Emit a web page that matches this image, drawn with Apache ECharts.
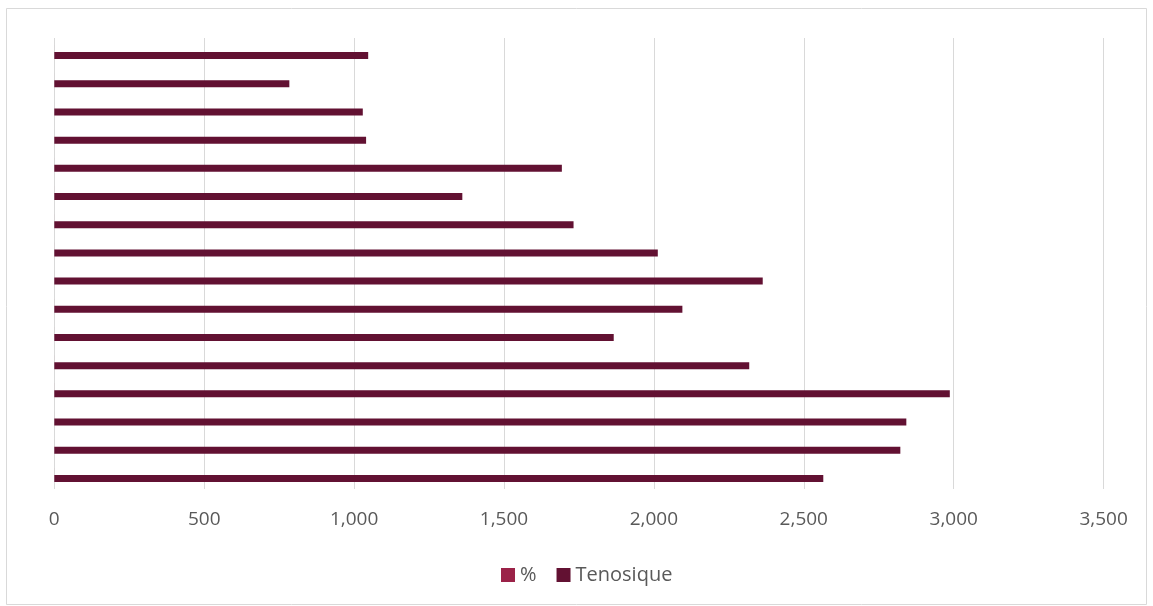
<!DOCTYPE html>
<html>
<head>
<meta charset="utf-8">
<script src="https://cdn.jsdelivr.net/npm/echarts@6/dist/echarts.min.js"></script>
<style>
html,body{margin:0;padding:0;background:#fff;}
#chart{width:1153px;height:606px;}
</style>
</head>
<body>
<div id="chart"></div>
<script>
// Categories (top to bottom); their labels are not shown in the reference
const categories = ['1','2','3','4','5','6','7','8','9','10','11','12','13','14','15','16'];
// Tenosique values (top to bottom)
const tenosique = [1047, 784, 1029, 1040, 1693, 1361, 1732, 2013, 2363, 2095, 1866, 2318, 2987, 2842, 2822, 2565];
// "%" series: values are too small to be visible at this scale
const percent = [0.04, 0.03, 0.04, 0.04, 0.06, 0.05, 0.06, 0.07, 0.08, 0.07, 0.06, 0.08, 0.1, 0.09, 0.09, 0.08];
const xTicks = { min: 0, max: 3500, interval: 500 };

const chart = echarts.init(document.getElementById('chart'), null, { renderer: 'canvas' });
const fontFamily = '"Open Sans", "Liberation Sans", sans-serif';
chart.setOption({
  animation: false,
  backgroundColor: '#ffffff',
  graphic: [{
    type: 'rect',
    shape: { x: 6.5, y: 8.5, width: 1140, height: 596 },
    style: { fill: 'none', stroke: '#d9d9d9', lineWidth: 1 },
    silent: true
  }],
  grid: { left: 54.3, right: 49.4, top: 38, bottom: 117, containLabel: false },
  legend: {
    data: ['%', 'Tenosique'],
    top: 560,
    left: 496,
    itemWidth: 14,
    itemHeight: 14,
    itemGap: 20,
    icon: 'rect',
    textStyle: { color: '#595959', fontSize: 20, fontFamily: fontFamily }
  },
  xAxis: {
    type: 'value',
    min: xTicks.min,
    max: xTicks.max,
    interval: xTicks.interval,
    axisLine: { show: false },
    axisTick: { show: false },
    splitLine: { show: true, lineStyle: { color: '#d9d9d9', width: 1 } },
    axisLabel: {
      color: '#595959',
      fontSize: 19,
      fontFamily: fontFamily,
      margin: 21,
      formatter: v => v.toLocaleString('en-US')
    }
  },
  yAxis: {
    type: 'category',
    data: categories,
    inverse: true,
    axisLine: { show: false },
    axisTick: { show: false },
    axisLabel: { show: false },
    splitLine: { show: false }
  },
  series: [
    {
      name: '%',
      type: 'bar',
      data: percent,
      barWidth: 7,
      barGap: '0%',
      itemStyle: { color: '#9b2248' }
    },
    {
      name: 'Tenosique',
      type: 'bar',
      data: tenosique,
      barWidth: 7,
      barGap: '0%',
      itemStyle: { color: '#621132' }
    }
  ]
});
</script>
</body>
</html>
